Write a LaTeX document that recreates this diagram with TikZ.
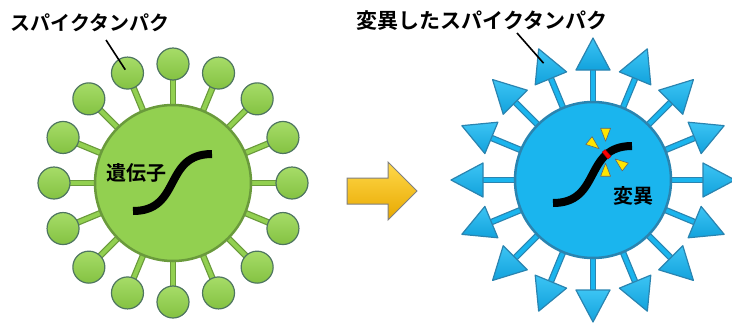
\documentclass[tikz,border=0pt]{standalone}
\usepackage{fontspec}
\newfontfamily\jp{Noto Sans CJK JP}[BoldFont={Noto Sans CJK JP Bold}]
\usetikzlibrary{calc}

\definecolor{gfill}{HTML}{92D050}
\definecolor{gedge}{HTML}{6A9A3C}
\definecolor{gtop}{HTML}{A6DC68}
\definecolor{gbot}{HTML}{84C242}
\definecolor{bedge}{HTML}{4E7560}
\definecolor{cfill}{HTML}{1AB5EE}
\definecolor{cedge}{HTML}{2A84B0}
\definecolor{ctop}{HTML}{3CC4F4}
\definecolor{cbot}{HTML}{12A2DC}
\definecolor{ylw}{HTML}{FFE500}
\definecolor{goldtop}{HTML}{FFD94A}
\definecolor{goldbot}{HTML}{E8A800}

\tikzset{
  label/.style={font=\jp\bfseries\fontsize{20}{24}\selectfont, inner sep=0pt},
  leader/.style={line width=1.6pt, black},
  body/.style={circle, inner sep=0pt, minimum size=156pt, line width=2.5pt},
  gbody/.style={body, fill=gfill, draw=gedge},
  cbody/.style={body, fill=cfill, draw=cedge},
  gstalkedge/.style={line width=6.5pt, gedge},
  gstalk/.style={line width=4pt, gfill},
  cstalkedge/.style={line width=6.5pt, cedge},
  cstalk/.style={line width=4pt, cfill},
  ball/.style={circle, inner sep=0pt, minimum size=32pt, draw=bedge, line width=1.2pt,
               top color=gtop, bottom color=gbot},
  spiketip/.style={draw=cedge, line width=1.2pt, line join=round, top color=ctop, bottom color=cbot},
  gene/.style={line width=8pt, black},
  mutmark/.style={rectangle, inner sep=0pt, minimum width=4pt, minimum height=9pt, fill=red, draw=red!70!black, line width=0.4pt},
  spark/.style={fill=ylw, draw=black!60, line width=0.6pt, line join=round},
  goarrow/.style={draw=black!50, line width=1pt, line join=miter, top color=goldtop, bottom color=goldbot}
}

\begin{document}
\begin{tikzpicture}[x=1pt, y=-1pt]
\useasboundingbox (0,0) rectangle (732,322);

% ---------- original virus ----------
\coordinate (lc) at (173,183);
\foreach \i [evaluate=\i as \a using \i*22.5] in {0,...,15} {
  \draw[gstalkedge] (lc) -- ($(lc)+(\a:112)$);
  \draw[gstalk] (lc) -- ($(lc)+(\a:112)$);
}
\node[gbody] (lbody) at (lc) {};
\foreach \i [evaluate=\i as \a using \i*22.5] in {0,...,15} {
  \node[ball] (lb\i) at ($(lc)+(\a:119)$) {};
}
\draw[gene] (133,211) .. controls (182,211) and (163,154) .. (212,154);
\node[label] (gname) at (136,173) {遺伝子};

\node[label] (ltext) at (90,23) {スパイクタンパク};
\coordinate (lfoot) at (106,40);
\draw[leader] (lfoot) -- ($(lb11.center)!4pt!(lfoot)$);

% ---------- arrow ----------
\path[goarrow] (347,178) -- (388,178) -- (388,162) -- (417,191) -- (388,220) -- (388,204) -- (347,204) -- cycle;

% ---------- mutated virus ----------
\coordinate (rc) at (593,180);
\foreach \i [evaluate=\i as \a using \i*22.5] in {0,...,15} {
  \begin{scope}[shift={(rc)}, rotate=\a]
    \draw[cstalkedge] (0,0) -- (112,0);
    \draw[cstalk] (0,0) -- (112,0);
    \path[spiketip] (110,-17) -- (142,0) -- (110,17) -- cycle;
    \coordinate (rt\i) at (124,0);
  \end{scope}
}
\node[cbody] (rbody) at (rc) {};
\draw[gene] (553,203) .. controls (602,203) and (583,146) .. (632,146)
  node[mutmark, pos=0.76, sloped] (mut) {};

% bursts around the mutation point
\begin{scope}[shift={($(mut)+(-13,-10)$)}, rotate=-39]
  \path[spark] (7,0) -- (-6,-5) -- (-6,5) -- cycle;
\end{scope}
\begin{scope}[shift={($(mut)+(-1,-20)$)}, rotate=-90]
  \path[spark] (7,0) -- (-6,-5) -- (-6,5) -- cycle;
\end{scope}
\begin{scope}[shift={($(mut)+(14,9)$)}, rotate=142]
  \path[spark] (7,0) -- (-6,-5) -- (-6,5) -- cycle;
\end{scope}
\begin{scope}[shift={($(mut)+(-1,16)$)}, rotate=90]
  \path[spark] (7,0) -- (-6,-5) -- (-6,5) -- cycle;
\end{scope}
\node[label] (mname) at (633,196) {変異};

\node[label, font=\jp\bfseries\fontsize{21}{24}\selectfont] (rtext) at (482,21) {変異したスパイクタンパク};
\coordinate (rfoot) at (517,33);
\draw[leader] (rfoot) -- ($(rt5)!3pt!(rfoot)$);
\end{tikzpicture}
\end{document}
